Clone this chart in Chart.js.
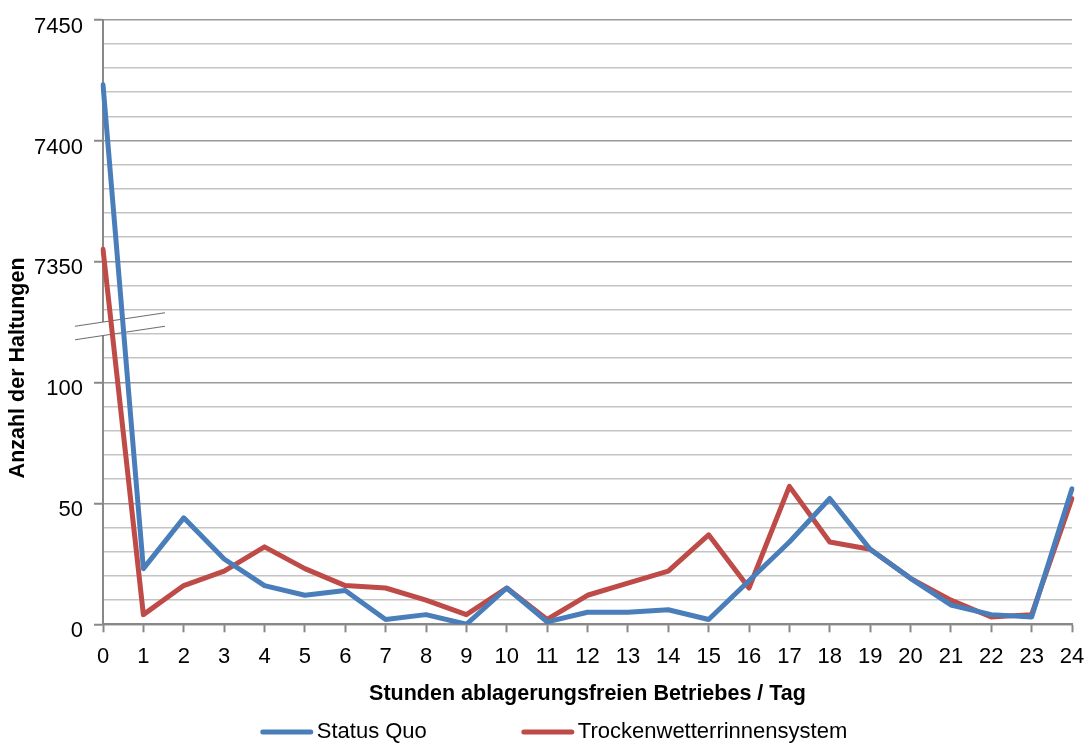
<!DOCTYPE html>
<html>
<head>
<meta charset="utf-8">
<script src="https://cdn.jsdelivr.net/npm/chart.js@4"></script>
<style>
  html, body { margin: 0; padding: 0; background: #fff; }
  #wrap { width: 1089px; height: 746px; position: relative; }
</style>
</head>
<body>
<div id="wrap"><canvas id="c"></canvas></div>
<script>
// ---- data ----
const hours = ['0','1','2','3','4','5','6','7','8','9','10','11','12','13','14','15','16','17','18','19','20','21','22','23','24'];
const statusQuo = [7423, 23, 44, 27, 16, 12, 14, 2, 4, 0, 15, 1, 5, 5, 6, 2, 18, 34, 52, 31, 19, 8, 4, 3, 56];
const trockenwetter = [7355, 4, 16, 22, 32, 23, 16, 15, 10, 4, 15, 2, 12, 17, 22, 37, 15, 57, 34, 31, 19, 10, 3, 4, 52];
const seriesNames = ['Status Quo', 'Trockenwetterrinnensystem'];
const yTickValues = [0, 50, 100, 150, 200, 250];
const yTickLabels = ['0', '50', '100', '7350', '7400', '7450'];
const xTitle = 'Stunden ablagerungsfreien Betriebes / Tag';
const yTitle = 'Anzahl der Haltungen';

// broken axis: values above the break are shifted down by this amount
const breakShift = 7200;
const breakThreshold = 7300;
const toAxis = v => (v > breakThreshold ? v - breakShift : v);

const BLUE = '#4a7ebb';
const RED = '#be4b48';
const FONT = '"Liberation Sans", Arial, sans-serif';

Chart.defaults.color = '#000';
Chart.defaults.font.family = FONT;

const breakPlugin = {
  id: 'axisBreak',
  beforeDatasetsDraw(chart) {
    const { ctx, chartArea } = chart;
    const y = chart.scales.y;
    const cx = chartArea.left + 17;
    const cy = y.getPixelForValue(123.2);
    const hw = 45, slope = 0.15, gap = 13.5;
    const p = (dx, dy) => [cx + dx, cy - dx * slope + dy];
    const a = p(-hw, -gap / 2), b = p(hw, -gap / 2), c = p(hw, gap / 2), d = p(-hw, gap / 2);
    ctx.save();
    ctx.fillStyle = '#fff';
    ctx.beginPath();
    ctx.moveTo(...a); ctx.lineTo(...b); ctx.lineTo(...c); ctx.lineTo(...d); ctx.closePath();
    ctx.fill();
    ctx.strokeStyle = '#6f6f6f';
    ctx.lineWidth = 1.2;
    ctx.beginPath();
    ctx.moveTo(...a); ctx.lineTo(...b);
    ctx.moveTo(...d); ctx.lineTo(...c);
    ctx.stroke();
    ctx.restore();
  },
  afterDraw(chart) {
    const { ctx, chartArea } = chart;
    // y axis title
    ctx.save();
    ctx.translate(18, (chartArea.top + chartArea.bottom) / 2 + 46);
    ctx.rotate(-Math.PI / 2);
    ctx.font = 'bold 21.5px ' + FONT;
    ctx.fillStyle = '#000';
    ctx.textAlign = 'center';
    ctx.textBaseline = 'middle';
    ctx.fillText(yTitle, 0, 0);
    ctx.restore();

    // legend
    ctx.save();
    ctx.font = '22px ' + FONT;
    const sample = 52, tgap = 4, itemGap = 95;
    const colors = [BLUE, RED];
    const widths = seriesNames.map(n => ctx.measureText(n).width);
    const total = widths.reduce((s, w) => s + sample + tgap + w, 0) + itemGap * (seriesNames.length - 1);
    let x = 554 - total / 2;
    const ly = 732;
    seriesNames.forEach((name, i) => {
      ctx.strokeStyle = colors[i];
      ctx.lineWidth = 5;
      ctx.lineCap = 'round';
      ctx.beginPath();
      ctx.moveTo(x + 2, ly);
      ctx.lineTo(x + sample - 2, ly);
      ctx.stroke();
      ctx.fillStyle = '#000';
      ctx.textAlign = 'left';
      ctx.textBaseline = 'middle';
      ctx.fillText(name, x + sample + tgap, ly);
      x += sample + tgap + widths[i] + itemGap;
    });
    ctx.restore();
  }
};

new Chart(document.getElementById('c'), {
  type: 'line',
  data: {
    labels: hours,
    datasets: [
      { label: seriesNames[0], data: statusQuo.map(toAxis), borderColor: BLUE, backgroundColor: BLUE },
      { label: seriesNames[1], data: trockenwetter.map(toAxis), borderColor: RED, backgroundColor: RED }
    ]
  },
  options: {
    responsive: true,
    maintainAspectRatio: false,
    animation: false,
    elements: {
      line: { borderWidth: 5, tension: 0, borderCapStyle: 'round', borderJoinStyle: 'round' },
      point: { radius: 0, hoverRadius: 0 }
    },
    layout: { padding: { left: 0, right: 17, top: 19.5, bottom: 39.5 } },
    plugins: {
      legend: { display: false },
      tooltip: { enabled: false }
    },
    scales: {
      x: {
        type: 'category',
        offset: false,
        afterFit(scale) { scale.paddingRight = 0; scale.paddingLeft = 0; },
        grid: { drawOnChartArea: false, drawTicks: true, tickLength: 8, tickColor: '#888', tickWidth: 2 },
        border: { display: true, color: '#888', width: 2 },
        ticks: { font: { size: 22 }, padding: 11, maxRotation: 0, autoSkip: false, color: '#000' },
        title: { display: true, text: xTitle, font: { size: 21.5, weight: 'bold' }, padding: { top: 0, bottom: 0 }, color: '#000' }
      },
      y: {
        min: 0,
        max: 250,
        afterFit(scale) { scale.width = 103; scale.paddingTop = 0; scale.paddingBottom = 0; },
        grid: {
          color: c => (c.tick && c.tick.value % 50 === 0 ? '#9a9a9a' : '#c4c4c4'),
          lineWidth: 1.5,
          drawTicks: true,
          tickLength: 9,
          tickColor: c => (c.tick && c.tick.value % 50 === 0 ? '#888' : 'rgba(0,0,0,0)'),
          tickWidth: 2
        },
        border: { display: true, color: '#888', width: 2 },
        ticks: {
          stepSize: 10,
          maxTicksLimit: 40,
          autoSkip: false,
          font: { size: 22 },
          padding: 11,
          labelOffset: 7,
          color: '#000',
          callback: v => { const i = yTickValues.indexOf(v); return i >= 0 ? yTickLabels[i] : ''; }
        }
      }
    }
  },
  plugins: [breakPlugin]
});
</script>
</body>
</html>
